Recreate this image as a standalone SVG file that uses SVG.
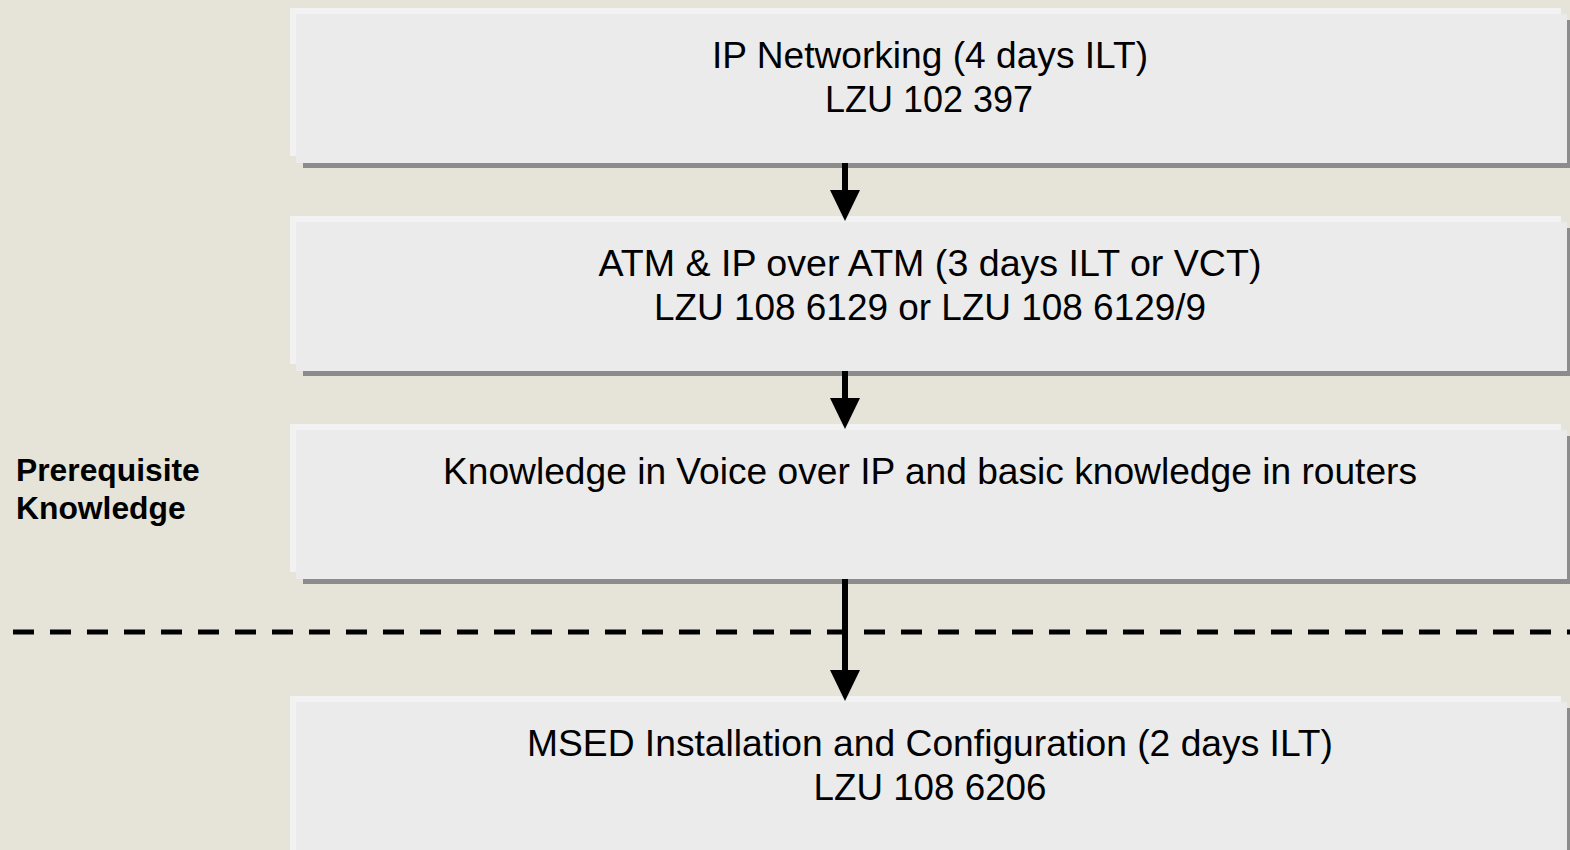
<svg xmlns="http://www.w3.org/2000/svg" width="1570" height="850" viewBox="0 0 1570 850">
<style>
.hl{fill:#f2f2f2}
.bx{fill:#ebebeb}
.sh{fill:#8c8c8c}
.t{font-family:"Liberation Sans",Arial,sans-serif;font-size:36.5px;fill:#000;text-anchor:middle}
.lb{font-family:"Liberation Sans",Arial,sans-serif;font-size:31.8px;font-weight:bold;fill:#000}
.cn{stroke:#000;stroke-width:6;fill:none}
</style>
<defs>
<marker id="ah" markerUnits="userSpaceOnUse" viewBox="0 -15 31 30" markerWidth="31" markerHeight="30" refX="0" refY="0" orient="auto">
<path d="M0,-15 L31,0 L0,15 Z" fill="#000"/>
</marker>
</defs>
<rect width="1570" height="850" fill="#e6e4d9"/>
<g id="n1">
<rect class="sh" x="303" y="20" width="1271" height="148"/>
<rect class="hl" x="290" y="8" width="1271" height="148"/>
<rect class="bx" x="296" y="14" width="1271" height="149"/>
<text class="t" x="930" y="68" textLength="436" lengthAdjust="spacingAndGlyphs">IP Networking (4 days ILT)</text>
<text class="t" x="929" y="112" textLength="208" lengthAdjust="spacingAndGlyphs">LZU 102 397</text>
</g>
<g id="n2">
<rect class="sh" x="303" y="228" width="1271" height="148"/>
<rect class="hl" x="290" y="216" width="1271" height="148"/>
<rect class="bx" x="296" y="222" width="1271" height="149"/>
<text class="t" x="930" y="276" textLength="663" lengthAdjust="spacingAndGlyphs">ATM &amp; IP over ATM (3 days ILT or VCT)</text>
<text class="t" x="930" y="320" textLength="552" lengthAdjust="spacingAndGlyphs">LZU 108 6129 or LZU 108 6129/9</text>
</g>
<g id="n3">
<rect class="sh" x="303" y="436" width="1271" height="148"/>
<rect class="hl" x="290" y="424" width="1271" height="148"/>
<rect class="bx" x="296" y="430" width="1271" height="149"/>
<text class="t" x="930" y="484" textLength="974" lengthAdjust="spacingAndGlyphs">Knowledge in Voice over IP and basic knowledge in routers</text>
</g>
<g id="n4">
<rect class="sh" x="303" y="708" width="1271" height="148"/>
<rect class="hl" x="290" y="696" width="1271" height="160"/>
<rect class="bx" x="296" y="702" width="1271" height="160"/>
<text class="t" x="930" y="756" textLength="806" lengthAdjust="spacingAndGlyphs">MSED Installation and Configuration (2 days ILT)</text>
<text class="t" x="930" y="800" textLength="233" lengthAdjust="spacingAndGlyphs">LZU 108 6206</text>
</g>
<g id="label">
<text class="lb" x="16" y="481">Prerequisite</text>
<text class="lb" x="16" y="519">Knowledge</text>
</g>
<line id="divider" x1="13" y1="632" x2="1570" y2="632" stroke="#000" stroke-width="5" stroke-dasharray="21 16"/>
<g id="connectors">
<line class="cn" x1="845" y1="163" x2="845" y2="190" marker-end="url(#ah)"/>
<line class="cn" x1="845" y1="371" x2="845" y2="398" marker-end="url(#ah)"/>
<line class="cn" x1="845" y1="579" x2="845" y2="670" marker-end="url(#ah)"/>
</g>
</svg>
